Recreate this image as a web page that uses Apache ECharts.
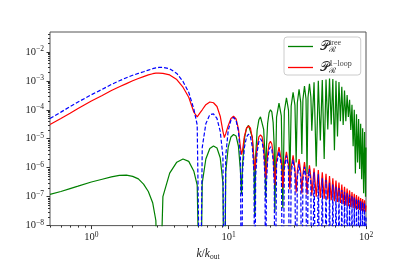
<!DOCTYPE html>
<html><head><meta charset="utf-8">
<script src="https://cdn.jsdelivr.net/npm/echarts@6/dist/echarts.min.js"></script>
<style>html,body{margin:0;padding:0;background:#fff}#c{width:407px;height:266px}</style>
</head><body><div id="c"></div>
<script>
// wavenumbers k/k_out
const k = [
0.5, 0.6, 0.7, 0.8, 1.0, 1.2, 1.4, 1.6, 1.8, 2.0, 2.2, 2.4, 2.6, 2.8, 2.95, 3.1,
3.32, 3.72, 4.19, 4.65, 5.12, 5.58, 5.9, 6.2,
6.42, 6.82, 7.29, 7.75, 8.22, 8.68, 9.08, 9.3,
9.52, 9.92, 10.39, 10.85, 11.32, 11.78, 12.18, 12.4,
12.62, 13.02, 13.49, 13.95, 14.42, 14.88, 15.28, 15.5,
15.72, 16.12, 16.59, 17.05, 17.52, 17.98, 18.38, 18.6,
18.82, 19.22, 19.69, 20.15, 20.62, 21.08, 21.48, 21.7,
22.32, 23.25, 24.18, 24.8,
25.42, 26.35, 27.28, 27.9,
28.52, 29.45, 30.38, 31.0,
31.62, 32.55, 33.48, 34.1,
34.72, 35.65, 36.58, 37.2,
37.82, 38.75, 39.68, 40.3,
41.85, 43.4, 44.95, 46.5, 48.05, 49.6, 51.15, 52.7, 54.25, 55.8, 57.35, 58.9,
60.45, 62.0, 63.55, 65.1, 66.65, 68.2, 69.75, 71.3, 72.85, 74.4, 75.95, 77.5,
79.05, 80.6, 82.15, 83.7, 85.25, 86.8, 88.35, 89.9, 91.45, 93.0, 94.55, 96.1,
97.65, 99.2, 100
];
// P_R^tree (green)
const tree = [
1.2e-7, 1.5e-7, 1.9e-7, 2.3e-7, 3.2e-7, 4.0e-7, 4.8e-7, 5.4e-7, 5.5e-7, 5.0e-7, 4.1e-7, 2.7e-7, 1.5e-7, 6e-8, 1.5e-8, 1e-12,
1e-7, 6.5e-7, 1.55e-6, 2.0e-6, 1.65e-6, 7.5e-7, 2.5e-7, 1e-12,
3e-7, 2.0e-6, 4.6e-6, 5.6e-6, 4.8e-6, 2.2e-6, 3e-7, 1e-12,
7e-7, 5e-6, 1.15e-5, 1.4e-5, 1.25e-5, 5.5e-6, 8e-7, 1.2e-7,
1.3e-6, 1.0e-5, 2.3e-5, 2.9e-5, 2.6e-5, 1.1e-5, 1.5e-6, 2e-8,
2.6e-6, 2e-5, 4.5e-5, 5.7e-5, 5.0e-5, 2.1e-5, 2.8e-6, 9e-8,
4.6e-6, 3.4e-5, 7.9e-5, 1.0e-4, 8.5e-5, 3.6e-5, 5e-6, 3e-8,
5.6e-5, 1.7e-4, 6.2e-5, 4e-8,
8.8e-5, 2.6e-4, 9.5e-5, 4e-7,
1.35e-4, 4.0e-4, 1.45e-4, 1.5e-6,
1.75e-4, 5.1e-4, 1.8e-4, 3e-6,
2.25e-4, 6.6e-4, 2.35e-4, 6e-7,
2.7e-4, 7.8e-4, 2.75e-4, 1.9e-5,
8.9e-4, 1.1e-6, 1.0e-3, 8.7e-6, 1.07e-3, 2e-6, 1.1e-3, 2.1e-5, 1.2e-3, 3.1e-5, 1.15e-3, 4e-6,
1.0e-3, 1.2e-5, 9.1e-4, 4e-5, 6.2e-4, 3e-5, 4.6e-4, 4e-5, 3.2e-4, 5.7e-5, 2.2e-4, 2e-5,
1.5e-4, 5.5e-6, 1.0e-4, 6.3e-7, 7e-5, 1.5e-6, 4.8e-5, 9e-7, 3.3e-5, 4e-7, 2.3e-5, 1.3e-7,
1.7e-5, 1e-7, 5e-6
];
// P_R^1-loop (red)
const oneLoop = [
3.1e-5, 5.0e-5, 7.6e-5, 1.1e-4, 2.0e-4, 3.1e-4, 4.6e-4, 6.2e-4, 8.0e-4, 1.0e-3, 1.2e-3, 1.4e-3, 1.6e-3, 1.76e-3, 1.83e-3, 1.84e-3,
1.8e-3, 1.6e-3, 1.1e-3, 6.0e-4, 2.7e-4, 8.2e-5, 5.7e-5, 8.0e-5,
1.0e-4, 1.5e-4, 1.85e-4, 1.75e-4, 1.3e-4, 6e-5, 1.8e-5, 1.1e-5,
1.5e-5, 2.8e-5, 5.0e-5, 6.0e-5, 4.8e-5, 2.2e-5, 5e-6, 2.8e-6,
4e-6, 1.2e-5, 2.3e-5, 2.75e-5, 2.3e-5, 1.0e-5, 2e-6, 8e-7,
1.5e-6, 5.5e-6, 1.15e-5, 1.37e-5, 1.15e-5, 5e-6, 1.1e-6, 4.3e-7,
7e-7, 3e-6, 6.8e-6, 8.1e-6, 6.6e-6, 2.8e-6, 6e-7, 2.6e-7,
1.9e-6, 5.1e-6, 1.8e-6, 2e-7,
1.3e-6, 3.5e-6, 1.25e-6, 1.8e-7,
1.0e-6, 2.66e-6, 9.5e-7, 1.4e-7,
7.5e-7, 1.97e-6, 7.2e-7, 1.3e-7,
6e-7, 1.55e-6, 5.8e-7, 1.2e-7,
4.8e-7, 1.21e-6, 4.6e-7, 1.1e-7,
9.6e-7, 1.0e-7, 8.3e-7, 9e-8, 6.9e-7, 8.5e-8, 6.2e-7, 8e-8, 5.1e-7, 7.5e-8, 4.3e-7, 7e-8,
3.6e-7, 6.5e-8, 3.05e-7, 6e-8, 2.6e-7, 5.5e-8, 2.2e-7, 5e-8, 1.9e-7, 4.7e-8, 1.64e-7, 4.4e-8,
1.44e-7, 4.1e-8, 1.26e-7, 3.9e-8, 1.13e-7, 3.7e-8, 1.0e-7, 3.5e-8, 9.0e-8, 3.3e-8, 8.2e-8, 3.1e-8,
7.5e-8, 3e-8, 5e-8
];
// blue dashed curve
const dashed = [
5.0e-5, 8.3e-5, 1.28e-4, 1.85e-4, 3.3e-4, 5.1e-4, 7.5e-4, 1.0e-3, 1.28e-3, 1.55e-3, 1.8e-3, 2.05e-3, 2.35e-3, 2.62e-3, 2.8e-3, 2.9e-3,
2.9e-3, 2.6e-3, 1.8e-3, 9.5e-4, 4.0e-4, 1.05e-4, 3.0e-5, 1e-12,
5e-6, 3.3e-5, 6.8e-5, 7.2e-5, 5e-5, 1.8e-5, 2.5e-6, 1e-12,
2.6e-6, 1.9e-5, 4.4e-5, 5.5e-5, 4.3e-5, 1.8e-5, 2.5e-6, 1e-12,
7e-7, 5e-6, 1.15e-5, 1.45e-5, 1.15e-5, 5e-6, 7e-7, 1e-12,
5e-7, 3.5e-6, 8e-6, 1.0e-5, 8e-6, 3.4e-6, 4.5e-7, 1e-12,
2.6e-7, 1.8e-6, 4.2e-6, 5.3e-6, 4.2e-6, 1.8e-6, 2.5e-7, 1e-12,
1.25e-6, 3.6e-6, 1.2e-6, 1e-12,
9e-7, 2.6e-6, 8.8e-7, 1e-12,
6.5e-7, 1.9e-6, 6.4e-7, 1e-12,
4.6e-7, 1.33e-6, 4.5e-7, 1e-12,
3.7e-7, 1.08e-6, 3.7e-7, 1e-12,
3.1e-7, 8.9e-7, 3.0e-7, 1e-12,
6.9e-7, 1e-12, 5.9e-7, 1e-12, 4.3e-7, 1e-12, 3.76e-7, 1e-12, 3.0e-7, 1e-12, 2.6e-7, 1e-12,
2.2e-7, 1e-12, 2.0e-7, 1e-12, 1.7e-7, 1e-12, 1.47e-7, 1e-12, 1.31e-7, 1e-12, 1.17e-7, 1e-12,
1.05e-7, 1e-12, 9.3e-8, 1e-12, 8.4e-8, 1e-12, 7.6e-8, 1e-12, 6.9e-8, 1e-12, 6.4e-8, 1e-12,
6.0e-8, 1e-12, 2e-8
];
const xMajorTicks = [1, 10, 100];
const yMajorTicks = [1e-8, 1e-7, 1e-6, 1e-5, 1e-4, 1e-3, 1e-2];
const xMinorTicks = [0.5, 0.6, 0.7, 0.8, 0.9, 2, 3, 4, 5, 6, 7, 8, 9, 20, 30, 40, 50, 60, 70, 80, 90];
const yMinorTicks = [];
[1e-8, 1e-7, 1e-6, 1e-5, 1e-4, 1e-3, 1e-2].forEach(d => [2,3,4,5,6,7,8,9].forEach(m => { if (m * d < 0.0485) yMinorTicks.push(+(m * d).toPrecision(3)); }));

const SERIF = "'Liberation Serif', 'DejaVu Serif', serif";
function powLabel(v) {
  const e = Math.round(Math.log10(v));
  return '{b|10}{s|' + (e < 0 ? '\u2212' + (-e) : e) + '}';
}
const powRich = {
  b: { fontFamily: SERIF, fontSize: 10.5, color: '#222', lineHeight: 14 },
  s: { fontFamily: SERIF, fontSize: 7.5, color: '#222', lineHeight: 7, verticalAlign: 'top' }
};
const XMIN = 0.5, XMAX = 100, YMIN = 1e-8, YMAX = 0.0485;
const tickStyle = { color: '#333', width: 1 };

const chart = echarts.init(document.getElementById('c'), null, { renderer: 'canvas' });
chart.setOption({
  animation: false,
  backgroundColor: '#fff',
  grid: { left: 50, right: 41, top: 32, bottom: 29, show: true, borderColor: '#555', borderWidth: 1, backgroundColor: 'transparent' },
  legend: {
    orient: 'vertical', left: 284, top: 37,
    data: ['tree', '1-loop'],
    icon: 'rect',
    itemWidth: 25, itemHeight: 1.3, itemGap: 6,
    padding: [2, 9, 0, 4],
    borderColor: '#ccc', borderWidth: 1, borderRadius: 3,
    backgroundColor: 'rgba(255,255,255,0.85)',
    formatter: name => '{P|\uD835\uDCAB}{sub|\u211B}{sup|' + (name === 'tree' ? 'tree' : '1\u2212loop') + '}',
    textStyle: {
      padding: [0, 0, 0, 2],
      rich: {
        P: { fontFamily: SERIF, fontSize: 13, color: '#222', lineHeight: 15 },
        sub: { fontFamily: SERIF, fontSize: 8, color: '#222', lineHeight: 7, verticalAlign: 'bottom', width: 0 },
        sup: { fontFamily: SERIF, fontSize: 8, color: '#444', lineHeight: 7, verticalAlign: 'top' }
      }
    }
  },
  xAxis: [
    {
      type: 'log', logBase: 10, min: XMIN, max: XMAX,
      axisLine: { show: false }, splitLine: { show: false },
      axisTick: { customValues: xMajorTicks, length: 3.5, lineStyle: tickStyle },
      axisLabel: { customValues: xMajorTicks, formatter: powLabel, rich: powRich, margin: 5 },
      name: '{i|k}{n|/}{i|k}{o|out}', nameLocation: 'middle', nameGap: 21,
      nameTextStyle: { rich: {
        i: { fontFamily: SERIF, fontStyle: 'italic', fontSize: 11.5, color: '#222', lineHeight: 14 },
        n: { fontFamily: SERIF, fontSize: 11.5, color: '#222', lineHeight: 14 },
        o: { fontFamily: SERIF, fontSize: 7.5, color: '#222', lineHeight: 7, verticalAlign: 'bottom' }
      } }
    },
    {
      type: 'log', logBase: 10, min: XMIN, max: XMAX, position: 'bottom', offset: 0,
      axisLine: { show: false }, splitLine: { show: false }, axisLabel: { show: false },
      axisTick: { customValues: xMinorTicks, length: 2, lineStyle: tickStyle }
    }
  ],
  yAxis: [
    {
      type: 'log', logBase: 10, min: YMIN, max: YMAX,
      axisLine: { show: false }, splitLine: { show: false },
      axisTick: { customValues: yMajorTicks, length: 3.5, lineStyle: tickStyle },
      axisLabel: { customValues: yMajorTicks, formatter: powLabel, rich: powRich, margin: 6 }
    },
    {
      type: 'log', logBase: 10, min: YMIN, max: YMAX, position: 'left', offset: 0,
      axisLine: { show: false }, splitLine: { show: false }, axisLabel: { show: false },
      axisTick: { customValues: yMinorTicks, length: 2, lineStyle: tickStyle }
    }
  ],
  series: [
    { name: 'tree', type: 'line', xAxisIndex: 0, yAxisIndex: 0, symbol: 'none', clip: true,
      lineStyle: { color: '#008000', width: 1.2 }, itemStyle: { color: '#008000' },
      data: k.map((x, i) => [x, tree[i]]) },
    { name: '1-loop', type: 'line', xAxisIndex: 0, yAxisIndex: 0, symbol: 'none', clip: true,
      lineStyle: { color: '#ff0000', width: 1.2 }, itemStyle: { color: '#ff0000' },
      data: k.map((x, i) => [x, oneLoop[i]]) },
    { name: 'dashed', type: 'line', xAxisIndex: 0, yAxisIndex: 0, symbol: 'none', clip: true,
      lineStyle: { color: '#0000ff', width: 1.2, type: [4, 2] }, itemStyle: { color: '#0000ff' },
      data: k.map((x, i) => [x, dashed[i]]) }
  ]
});
</script>
</body></html>
